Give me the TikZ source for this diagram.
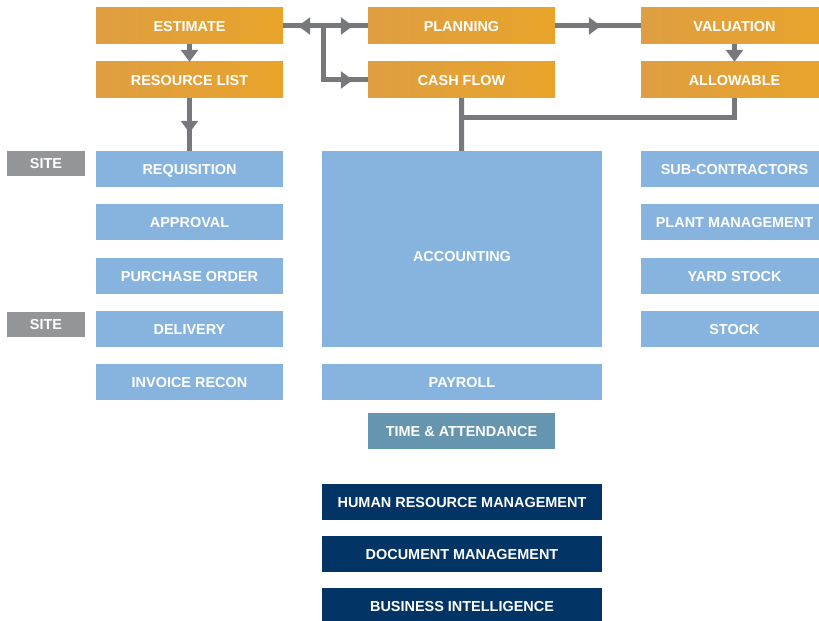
\documentclass[tikz,border=0pt]{standalone}
\usepackage{fontspec}
\setmainfont{Liberation Sans}
\usetikzlibrary{arrows.meta,decorations.markings}

\definecolor{orgL}{HTML}{DF9E42}
\definecolor{orgR}{HTML}{E8A42A}
\definecolor{lblue}{HTML}{86B4DF}
\definecolor{sitegray}{HTML}{939598}
\definecolor{steel}{HTML}{6695B0}
\definecolor{navy}{HTML}{033466}
\definecolor{linegray}{HTML}{77787B}

\begin{document}
\begin{tikzpicture}
  [x=1bp,y=-1bp,>={Triangle[width=17bp,length=12bp]},
   box/.style={rectangle,inner sep=0pt,minimum width=187bp,minimum height=36bp,text=white,
     font=\bfseries\fontsize{14.5}{16}\selectfont,text height=10.4bp,text depth=0bp},
   ora/.style={box,left color=orgL,right color=orgR},
   blu/.style={box,fill=lblue},
   wide/.style={minimum width=280bp},
   site/.style={box,fill=sitegray,minimum width=78bp,minimum height=25bp},
   conn/.style={draw=linegray,line width=5bp},
   mid/.style={postaction={decorate},decoration={markings,mark=at position #1 with {\arrow{>}}}}]
  \useasboundingbox (0,0) rectangle (819,621);

  % top row
  \node[ora] (est) at (189.5,26) {ESTIMATE};
  \node[ora] (rl) at (189.5,80) {RESOURCE LIST};
  \node[ora] (plan) at (461.5,26) {PLANNING};
  \node[ora] (cash) at (461.5,80) {CASH FLOW};
  \node[ora] (val) at (734.5,26) {VALUATION};
  \node[ora] (allow) at (734.5,80) {ALLOWABLE};

  % purchasing side
  \node[site] (site1) at (46,163.5) {SITE};
  \node[site] (site2) at (46,324.5) {SITE};
  \node[blu] (req) at (189.5,169) {REQUISITION};
  \node[blu] (appr) at (189.5,222) {APPROVAL};
  \node[blu] (po) at (189.5,276) {PURCHASE ORDER};
  \node[blu] (del) at (189.5,329) {DELIVERY};
  \node[blu] (inv) at (189.5,382) {INVOICE RECON};

  % middle
  \node[blu,wide,minimum height=196bp] (acc) at (462,249) {\raisebox{-7bp}{ACCOUNTING}};
  \node[blu,wide] (pay) at (462,382) {PAYROLL};
  \node[box,fill=steel] (time) at (461.5,431) {TIME \& ATTENDANCE};

  % right side
  \node[blu] (sub) at (734.5,169) {SUB-CONTRACTORS};
  \node[blu] (plant) at (734.5,222) {PLANT MANAGEMENT};
  \node[blu] (yard) at (734.5,276) {YARD STOCK};
  \node[blu] (stock) at (734.5,329) {STOCK};

  % bottom
  \node[box,wide,fill=navy] (hrm) at (462,502) {HUMAN RESOURCE MANAGEMENT};
  \node[box,wide,fill=navy] (doc) at (462,554) {DOCUMENT MANAGEMENT};
  \node[box,wide,fill=navy] (bi) at (462,606) {BUSINESS INTELLIGENCE};

  \coordinate (split) at (323,26);
  \coordinate (join) at (461.5,118);

  \draw[conn,->] (est) -- (rl);
  \draw[conn,->] (val) -- (allow);
  \draw[conn,mid=-18bp] (rl) -- (req);
  \draw[conn,postaction={decorate},decoration={markings,
      mark=at position 15bp with {\arrowreversed{>}},
      mark=at position -15bp with {\arrow{>}}}] (est) -- (plan);
  \draw[conn,mid=-15bp] (split) |- (cash);
  \draw[conn,mid=-40bp] (plan) -- (val);
  \draw[conn] (cash) -- (acc);
  \draw[conn] (allow) |- (join);
\end{tikzpicture}
\end{document}
